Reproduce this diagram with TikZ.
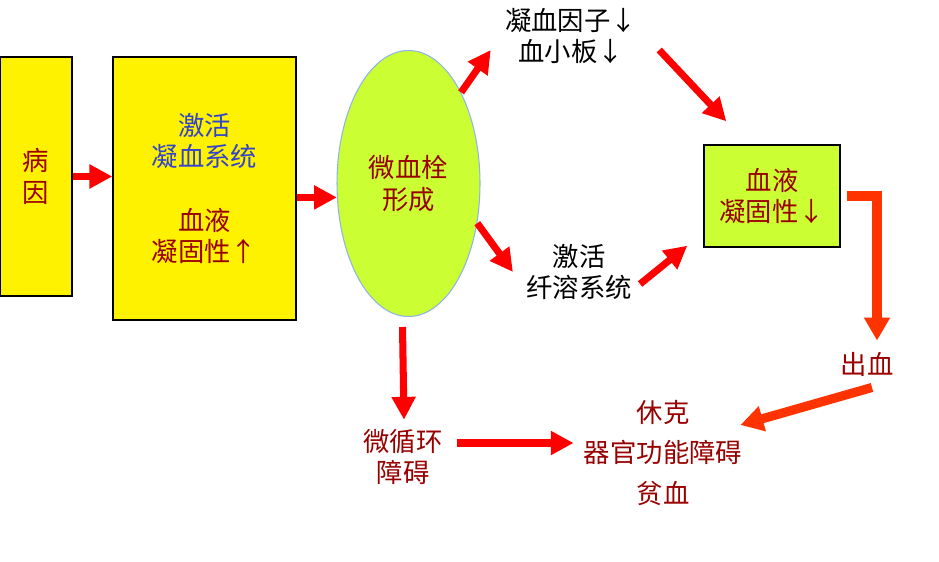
\documentclass[tikz,border=0pt]{standalone}
\usepackage{fontspec}
\setmainfont{Noto Sans CJK SC}
\usetikzlibrary{shapes.geometric,arrows.meta,calc}

\definecolor{dred}{RGB}{153,0,0}
\definecolor{tblue}{RGB}{51,68,204}
\definecolor{lime}{RGB}{204,255,51}
\definecolor{orng}{RGB}{255,51,0}
\definecolor{edge}{RGB}{142,180,227}

\begin{document}
\begin{tikzpicture}[
    x=0.02cm, y=-0.02cm,
    txt/.style={align=center, inner sep=0pt, font=\fontsize{15}{18}\selectfont},
    box/.style={txt, draw, line width=0.8pt, text=dred},
    arr/.style={draw=red, line width=4pt, -{Triangle[width=13pt,length=13pt]}},
    oarr/.style={draw=orng, line width=5.2pt, -{Triangle[width=14pt,length=13pt]}},
]
\useasboundingbox[fill=white] (0,0) rectangle (939,561);

\node[box, fill=yellow, minimum width=1.44cm, minimum height=4.78cm] (bing) at (36,176.5) {病\\因};
\node[box, fill=yellow, minimum width=3.66cm, minimum height=5.26cm] (jihuo) at (204.5,188.5)
    {{\color{tblue}激活}\\{\color{tblue}凝血系统}\\[18pt]血液\\凝固性↑};
\node[txt, ellipse, draw=edge, line width=0.6pt, fill=lime, text=dred, minimum width=2.86cm, minimum height=5.32cm] (el) at (408.5,183.5) {微血栓\\形成};
\node[txt] (top) at (571,36) {凝血因子↓\\血小板↓};
\node[box, fill=lime, minimum width=2.72cm, minimum height=2.04cm] (clot) at (772,196) {血液\\凝固性↓};
\node[txt] (lysis) at (579,272) {激活\\纤溶系统};
\node[txt, text=dred] (bleed) at (867,364) {出血};
\node[txt, text=dred] (micro) at (403,457) {微循环\\障碍};
\node[txt, text=dred, font=\fontsize{15}{22.8}\selectfont] (out) at (663,453) {休克\\器官功能障碍\\贫血};

\draw[arr] (bing.east) -- (bing.east -| jihuo.west);
\draw[arr] (jihuo.east |- el.191) -- (el.191);
\draw[arr] (el.60) -- ($(top.west)+(-14,14)$);
\draw[arr] ($(top.east)+(22,14)$) -- ($(clot.north west)+(23,-23)$);
\draw[arr] (el.-30) -- ($(lysis.west)+(-13,0)$);
\draw[arr] ($(lysis.east)+(8,12)$) -- ($(clot.south west)+(-16,-2)$);
\draw[oarr] ($(clot.east)+(6,0)$) -| ($(bleed.north)+(10,-11)$);
\draw[oarr] ($(bleed.south)+(5,11)$) -- ($(out.east)+(-2,-28)$);
\draw[arr] ($(el.south)+(-6,10)$) -- ($(micro.north)+(1,-9)$);
\draw[arr] ($(micro.east)+(14,-14)$) -- ($(micro.east -| out.west)+(-10,-14)$);
\end{tikzpicture}
\end{document}
